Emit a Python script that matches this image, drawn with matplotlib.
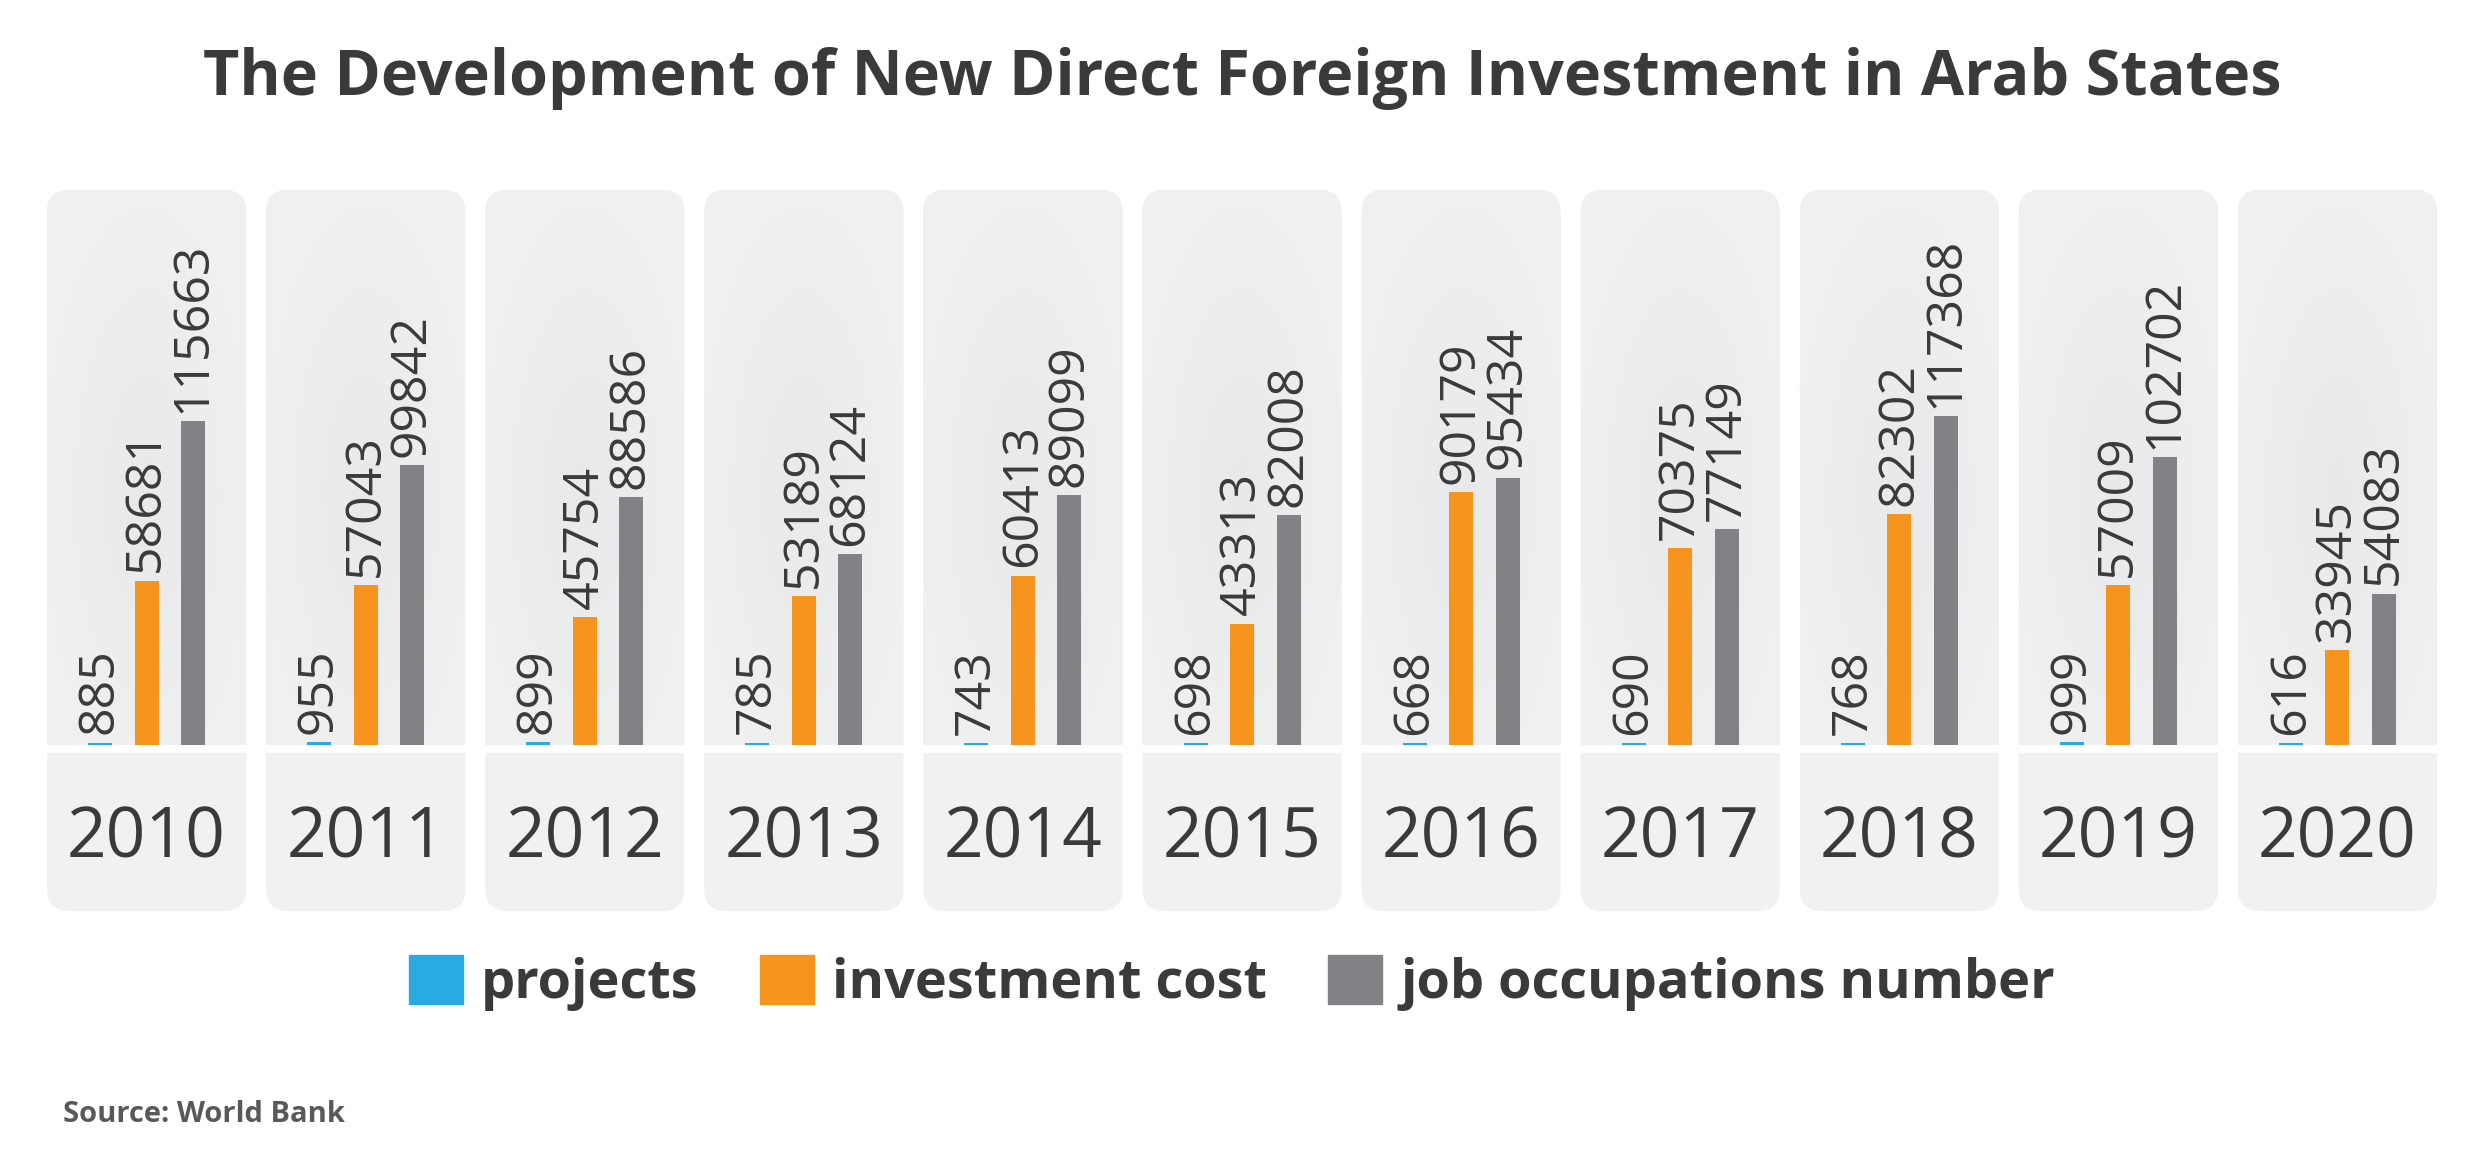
import numpy as np
import matplotlib.pyplot as plt
from matplotlib.patches import FancyBboxPatch, Patch

# Les donnees
annees   = ['2010', '2011', '2012', '2013', '2014', '2015', '2016', '2017', '2018', '2019', '2020']
projets  = [885, 955, 899, 785, 743, 698, 668, 690, 768, 999, 616]
cout     = [58681, 57043, 45754, 53189, 60413, 43313, 90179, 70375, 82302, 57009, 33945]
emplois  = [115663, 99842, 88586, 68124, 89099, 82008, 95434, 77149, 117368, 102702, 54083]
series   = ['projects', 'investment cost', 'job occupations number']
couleurs = ['#29abe2', '#f7941d', '#808285']

texte = '#3a3a3c'
W, H = 2481, 1158

plt.rcParams['font.family'] = ['Open Sans', 'DejaVu Sans']
fig = plt.figure(figsize=(W/100, H/100), dpi=100)

# geometrie des panneaux (en pixels)
gauche, droite = 47, 2437
haut, bas, base = 190, 911, 745
n = len(annees)
larg = 199/219                   # largeur d'un panneau en unites de x
px_x = (droite-gauche)/(n-1+larg)  # pixels par unite de x
uy = 357.0                       # unites de y par pixel

ax = fig.add_axes([gauche/W, 1-bas/H, (droite-gauche)/W, (bas-haut)/H])
y0, y1 = -(bas-base)*uy, (base-haut)*uy

x = np.arange(n)
c_bord = np.array([0.945, 0.945, 0.949])
c_centre = np.array([0.910, 0.914, 0.918])
for i in x:
    panneau = FancyBboxPatch((i-larg/2, y0), larg, y1-y0,
                             boxstyle='round,pad=0,rounding_size=%f' % (22/px_x),
                             mutation_aspect=uy*px_x, fc=c_bord, ec='none', zorder=0)
    ax.add_patch(panneau)
    # leger degrade radial dans la partie haute
    gy, gx = np.mgrid[0:1:120j, 0:1:60j]
    d = np.sqrt(((gx-0.5)/0.6)**2 + ((gy-0.45)/0.6)**2).clip(0, 1)[..., None]
    img = c_centre*(1-d) + c_bord*d
    im = ax.imshow(img, extent=(i-larg/2, i+larg/2, 0, y1), origin='lower',
                   aspect='auto', zorder=1, interpolation='bilinear')
    im.set_clip_path(panneau)

ax.axhspan(-8*uy, 0, color='white', zorder=2, lw=0)

dx = 46.5/px_x
lb = 24/px_x
for k, vals in enumerate([projets, cout, emplois]):
    pos = x + (k-1)*dx
    ax.bar(pos, vals, lb, color=couleurs[k], zorder=3)
    for p, v in zip(pos, vals):
        ax.annotate(str(v), (p, v), xytext=(0, 6), textcoords='offset points',
                    rotation=90, ha='center', va='bottom', fontsize=36,
                    color=texte, zorder=4)

for i, a in zip(x, annees):
    ax.text(i, -113*uy, a, ha='center', va='baseline', fontsize=50, color=texte, zorder=4)

ax.set_xlim(-larg/2, n-1+larg/2)
ax.set_ylim(y0, y1)
ax.axis('off')

fig.text(1242/W, 1-95/H, 'The Development of New Direct Foreign Investment in Arab States',
         ha='center', va='baseline', fontsize=45.3, fontweight='bold', color=texte)

poignees = [Patch(color=c) for c in couleurs]
fig.legend(poignees, series, ncol=3, loc='center', bbox_to_anchor=(1232/W, 1-983/H),
           frameon=False, handlelength=1.0, handleheight=1.0,
           handletextpad=0.33, columnspacing=1.13, prop={'weight': 'bold', 'size': 39},
           labelcolor=texte)

fig.text(63/W, 1-1122/H, 'Source: World Bank', ha='left', va='baseline',
         fontsize=21, fontweight='bold', color='#58595b')

fig.savefig('out.png', dpi=100)
